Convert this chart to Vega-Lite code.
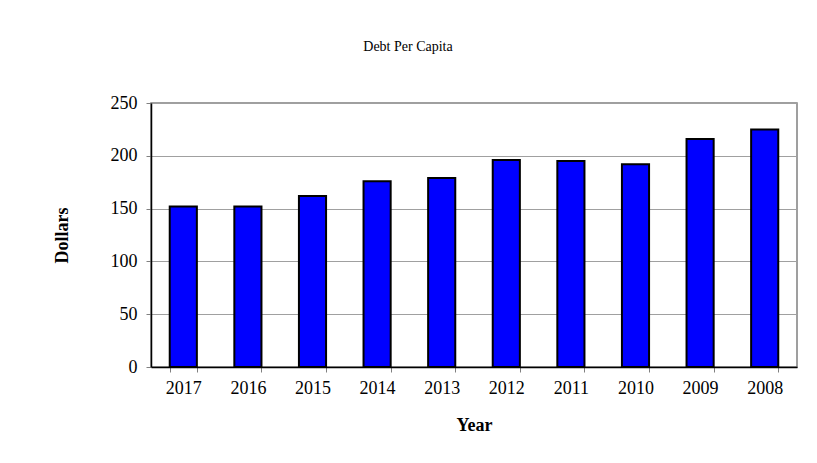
{
  "$schema": "https://vega.github.io/schema/vega-lite/v6.json",
  "autosize": "none",
  "width": 646,
  "height": 264,
  "padding": {"left": 151, "top": 103, "right": 20, "bottom": 96},
  "background": "white",
  "title": {
    "text": "Debt Per Capita",
    "font": "Liberation Serif",
    "fontSize": 14,
    "fontWeight": "normal",
    "color": "black",
    "anchor": "middle",
    "dx": -66,
    "offset": 40
  },
  "data": {
    "values": [
      {"Year": "2017", "Dollars": 152},
      {"Year": "2016", "Dollars": 152},
      {"Year": "2015", "Dollars": 162},
      {"Year": "2014", "Dollars": 176},
      {"Year": "2013", "Dollars": 179},
      {"Year": "2012", "Dollars": 196},
      {"Year": "2011", "Dollars": 195},
      {"Year": "2010", "Dollars": 192},
      {"Year": "2009", "Dollars": 216},
      {"Year": "2008", "Dollars": 225}
    ]
  },
  "mark": {"type": "bar", "color": "#0000ff", "stroke": "black", "strokeWidth": 2},
  "encoding": {
    "x": {
      "field": "Year",
      "type": "ordinal",
      "sort": null,
      "scale": {"paddingInner": 0.58, "paddingOuter": 0.29},
      "axis": {
        "title": "Year",
        "titleFont": "Liberation Serif",
        "titleFontSize": 18,
        "titleFontWeight": "bold",
        "titleColor": "black",
        "titlePadding": 19,
        "labelFont": "Liberation Serif",
        "labelFontSize": 18,
        "labelColor": "black",
        "labelAngle": 0,
        "labelPadding": 7,
        "domainColor": "black",
        "domainWidth": 1.5,
        "tickColor": "#808080",
        "tickSize": 5,
        "tickBand": "extent",
        "grid": false
      }
    },
    "y": {
      "field": "Dollars",
      "type": "quantitative",
      "scale": {"domain": [0, 250], "nice": false},
      "axis": {
        "title": "Dollars",
        "titleFont": "Liberation Serif",
        "titleFontSize": 18,
        "titleFontWeight": "bold",
        "titleColor": "black",
        "titlePadding": 39,
        "values": [0, 50, 100, 150, 200, 250],
        "labelFont": "Liberation Serif",
        "labelFontSize": 18,
        "labelColor": "black",
        "labelPadding": 9,
        "domainColor": "black",
        "domainWidth": 1.5,
        "tickColor": "#808080",
        "tickSize": 5,
        "gridColor": "#a0a0a0",
        "gridWidth": 1
      }
    }
  },
  "config": {
    "view": {"stroke": "#808080", "strokeWidth": 1.5}
  }
}
